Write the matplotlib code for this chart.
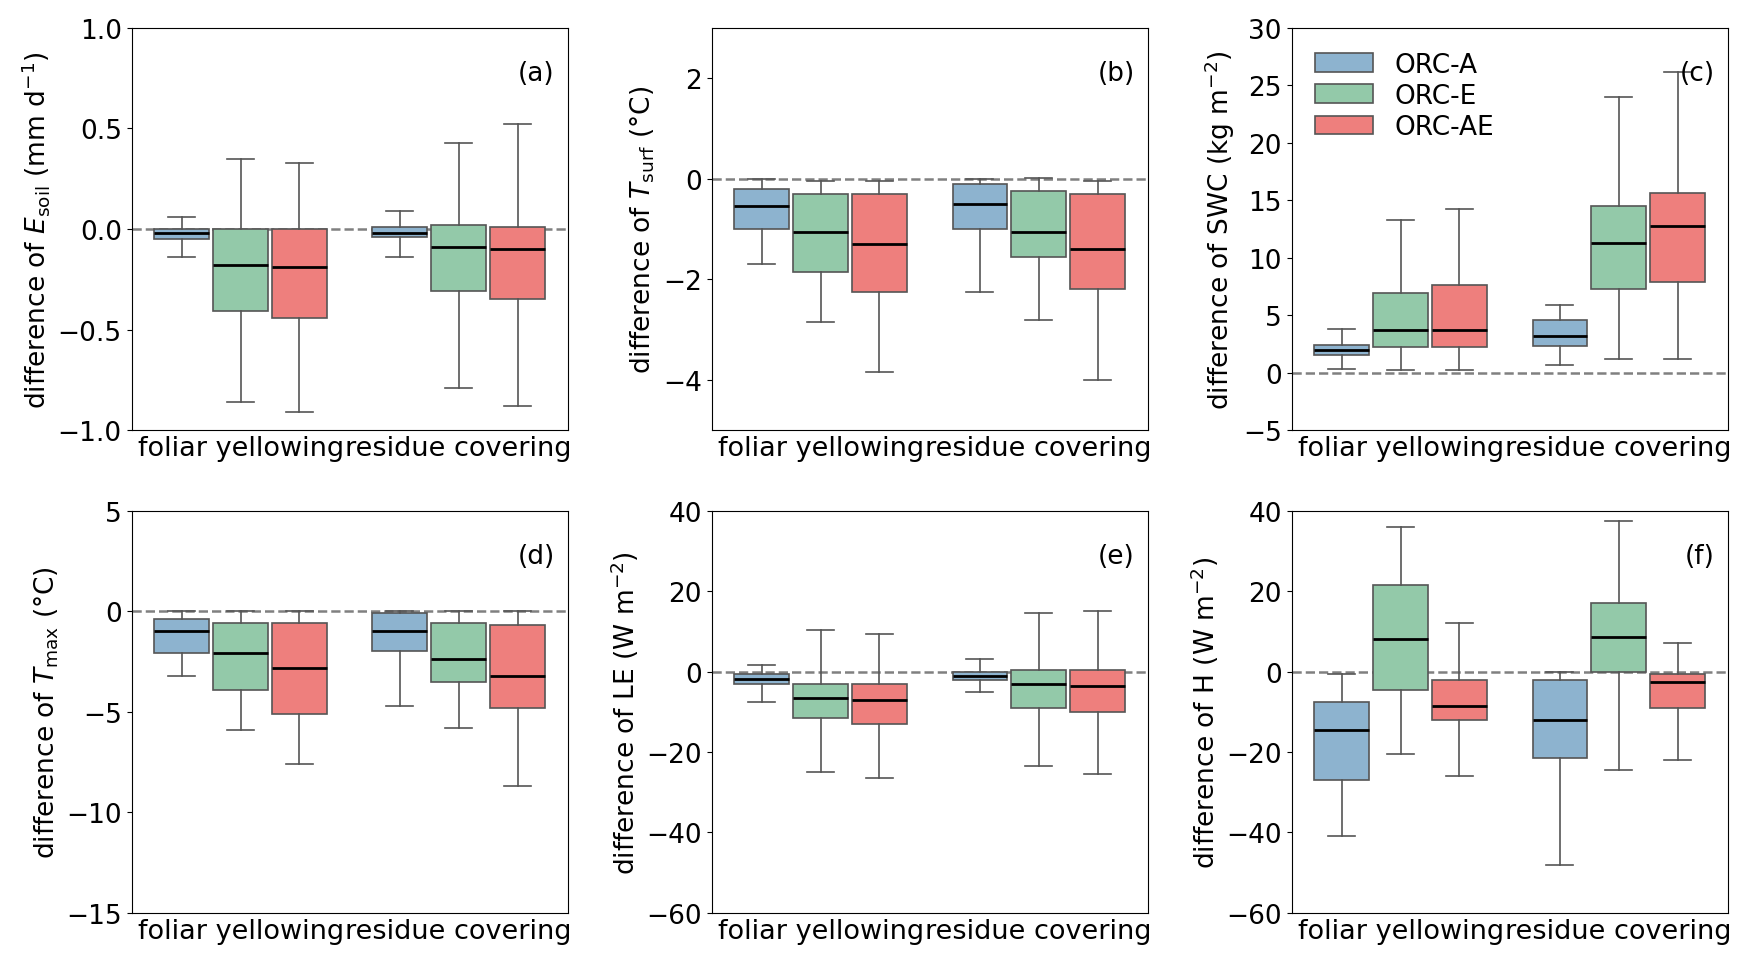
import matplotlib.pyplot as plt

groups = ["foliar yellowing", "residue covering"]
models = ["ORC-A", "ORC-E", "ORC-AE"]
colors = ["#8db3cf", "#93c9a9", "#ee7f7d"]

# each entry: [whislo, q1, med, q3, whishi] per model, per group
esoil = [[[-0.14, -0.05, -0.02, 0.0, 0.06], [-0.86, -0.41, -0.18, 0.0, 0.35], [-0.91, -0.44, -0.19, 0.0, 0.33]],
         [[-0.14, -0.04, -0.02, 0.01, 0.09], [-0.79, -0.31, -0.09, 0.02, 0.43], [-0.88, -0.35, -0.10, 0.01, 0.52]]]
tsurf = [[[-1.7, -1.0, -0.55, -0.2, 0.0], [-2.85, -1.85, -1.05, -0.3, -0.05], [-3.85, -2.25, -1.3, -0.3, -0.05]],
         [[-2.25, -1.0, -0.5, -0.1, 0.0], [-2.8, -1.55, -1.05, -0.25, 0.02], [-4.0, -2.2, -1.4, -0.3, -0.05]]]
swc = [[[0.3, 1.5, 2.0, 2.4, 3.8], [0.2, 2.2, 3.7, 6.9, 13.3], [0.2, 2.2, 3.7, 7.6, 14.2]],
       [[0.7, 2.3, 3.2, 4.6, 5.9], [1.2, 7.3, 11.3, 14.5, 24.0], [1.2, 7.9, 12.8, 15.6, 26.2]]]
tmax = [[[-3.2, -2.1, -1.0, -0.4, 0.0], [-5.9, -3.9, -2.1, -0.6, 0.0], [-7.6, -5.1, -2.8, -0.6, 0.0]],
        [[-4.7, -2.0, -1.0, -0.1, 0.0], [-5.8, -3.5, -2.4, -0.6, 0.0], [-8.7, -4.8, -3.2, -0.7, 0.0]]]
le = [[[-7.5, -3.0, -1.8, -0.5, 1.5], [-25.0, -11.5, -6.5, -3.0, 10.2], [-26.5, -13.0, -7.0, -3.0, 9.3]],
      [[-5.0, -2.0, -1.0, 0.0, 3.0], [-23.5, -9.0, -3.0, 0.5, 14.5], [-25.5, -10.0, -3.5, 0.5, 15.0]]]
h = [[[-41.0, -27.0, -14.5, -7.5, -0.5], [-20.5, -4.5, 8.0, 21.5, 36.0], [-26.0, -12.0, -8.5, -2.0, 12.0]],
     [[-48.0, -21.5, -12.0, -2.0, 0.0], [-24.5, 0.0, 8.5, 17.0, 37.5], [-22.0, -9.0, -2.5, -0.5, 7.0]]]

panels = [
    (esoil, r"difference of $E_{\rm soil}$ (mm d$^{-1}$)", (-1, 1), [-1.0, -0.5, 0.0, 0.5, 1.0], "(a)"),
    (tsurf, r"difference of $T_{\rm surf}$ (°C)", (-5, 3), [-4, -2, 0, 2], "(b)"),
    (swc, r"difference of SWC (kg m$^{-2}$)", (-5, 30), [-5, 0, 5, 10, 15, 20, 25, 30], "(c)"),
    (tmax, r"difference of $T_{\rm max}$ (°C)", (-15, 5), [-15, -10, -5, 0, 5], "(d)"),
    (le, r"difference of LE (W m$^{-2}$)", (-60, 40), [-60, -40, -20, 0, 20, 40], "(e)"),
    (h, r"difference of H (W m$^{-2}$)", (-60, 40), [-60, -40, -20, 0, 20, 40], "(f)"),
]

plt.rcParams['font.size'] = 19
fig, axes = plt.subplots(2, 3, figsize=(17.54, 9.62))
offsets = [-0.27, 0.0, 0.27]

for ax, (data, ylabel, ylim, yticks, tag) in zip(axes.flat, panels):
    ax.axhline(0, color="gray", ls="--", lw=1.8, zorder=0)
    for m in range(3):
        stats = []
        for g in range(2):
            lo, q1, med, q3, hi = data[g][m]
            stats.append(dict(whislo=lo, q1=q1, med=med, q3=q3, whishi=hi, fliers=[]))
        bp = ax.bxp(stats, positions=[g + offsets[m] for g in range(2)], widths=0.25,
                    patch_artist=True, showfliers=False,
                    boxprops=dict(facecolor=colors[m], edgecolor="#555555", lw=1.2),
                    medianprops=dict(color="black", lw=2),
                    whiskerprops=dict(color="#555555", lw=1.2),
                    capprops=dict(color="#555555", lw=1.2))
        bp["boxes"][0].set_label(models[m])
    ax.set_xlim(-0.5, 1.5)
    ax.set_xticks([0, 1])
    ax.set_xticklabels(groups, fontsize=19.5)
    ax.tick_params(axis="x", length=0)
    ax.set_ylim(*ylim)
    ax.set_yticks(yticks)
    ax.set_ylabel(ylabel, fontsize=19)
    ax.text(0.97, 0.92, tag, transform=ax.transAxes, ha="right", va="top", fontsize=19)

axes[0, 2].legend(loc="upper left", fontsize=19, frameon=False, bbox_to_anchor=(0.0, 1.0),
                  handlelength=2.2, labelspacing=0.2)
fig.subplots_adjust(left=0.075, right=0.985, top=0.97, bottom=0.05, wspace=0.33, hspace=0.2)
fig.savefig("out.png", dpi=100)
